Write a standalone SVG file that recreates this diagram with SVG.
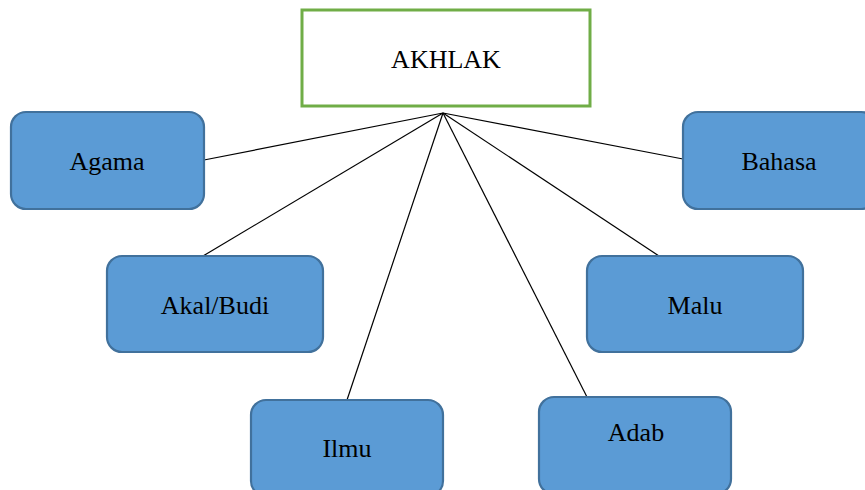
<svg xmlns="http://www.w3.org/2000/svg" width="865" height="490" viewBox="0 0 865 490">
  <style>
    .root { fill: #FFFFFF; stroke: #70AD47; stroke-width: 3; }
    .leaf { fill: #5B9BD5; stroke: #41719C; stroke-width: 2.2; }
    .label { font-family: "Liberation Serif", "Times New Roman", serif; font-size: 26px; fill: #000000; text-anchor: middle; }
    .link { stroke: #000000; stroke-width: 1.2; fill: none; }
  </style>
  <rect width="865" height="490" fill="#FFFFFF"/>

  <g id="connectors">
    <line class="link" x1="443" y1="113" x2="204" y2="160"/>
    <line class="link" x1="443" y1="113" x2="683" y2="159"/>
    <line class="link" x1="443" y1="113" x2="203" y2="256"/>
    <line class="link" x1="443" y1="113" x2="659" y2="256"/>
    <line class="link" x1="443" y1="113" x2="347" y2="400"/>
    <line class="link" x1="443" y1="113" x2="587" y2="397"/>
  </g>

  <g id="akhlak">
    <rect class="root" x="302" y="10" width="288" height="96"/>
    <text class="label" x="446" y="68">AKHLAK</text>
  </g>

  <g id="agama">
    <rect class="leaf" x="11" y="112" width="193" height="97" rx="15"/>
    <text class="label" x="107" y="170">Agama</text>
  </g>

  <g id="bahasa">
    <rect class="leaf" x="683" y="112" width="193" height="97" rx="15"/>
    <text class="label" x="779" y="170">Bahasa</text>
  </g>

  <g id="akal-budi">
    <rect class="leaf" x="107" y="256" width="216" height="96" rx="15"/>
    <text class="label" x="215" y="314">Akal/Budi</text>
  </g>

  <g id="malu">
    <rect class="leaf" x="587" y="256" width="216" height="96" rx="15"/>
    <text class="label" x="695" y="314">Malu</text>
  </g>

  <g id="ilmu">
    <rect class="leaf" x="251" y="400" width="192" height="96" rx="15"/>
    <text class="label" x="347" y="457">Ilmu</text>
  </g>

  <g id="adab">
    <rect class="leaf" x="539" y="397" width="192" height="97" rx="15"/>
    <text class="label" x="636" y="441">Adab</text>
  </g>
</svg>
